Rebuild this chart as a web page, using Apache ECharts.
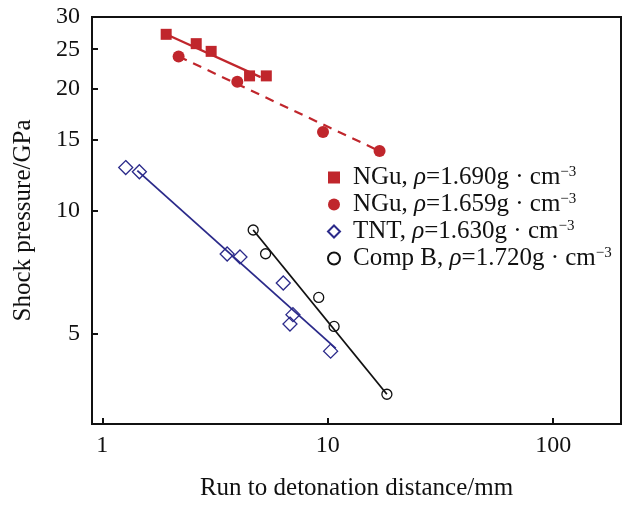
<!DOCTYPE html>
<html>
<head>
<meta charset="utf-8">
<script src="https://cdn.jsdelivr.net/npm/echarts@6/dist/echarts.min.js"></script>
<style>
  html, body { margin: 0; padding: 0; background: #fff; }
  #chart { width: 629px; height: 506px; }
</style>
</head>
<body>
<div id="chart"></div>
<script>
// Run-to-detonation (Pop plot) data, log-log
const ngu1690X = [1.92, 2.61, 3.04, 4.50, 5.34];
const ngu1690Y = [27.2, 25.8, 24.7, 21.5, 21.5];
const ngu1659X = [2.18, 3.97, 9.53, 16.98];
const ngu1659Y = [24.0, 20.8, 15.65, 14.05];
const tntX = [1.27, 1.46, 3.58, 4.08, 6.35, 7.01, 6.80, 10.3];
const tntY = [12.8, 12.5, 7.85, 7.72, 6.66, 5.57, 5.28, 4.53];
const compBX = [4.67, 5.30, 9.12, 10.67, 18.3];
const compBY = [8.99, 7.86, 6.14, 5.21, 3.55];

// Fitted power-law lines (end points)
const ngu1690FitX = [1.92, 5.04];
const ngu1690FitY = [27.2, 21.35];
const ngu1659FitX = [2.18, 16.98];
const ngu1659FitY = [24.0, 14.05];
const tntFitX = [1.43, 10.86];
const tntFitY = [12.58, 4.60];
const compBFitX = [4.67, 18.3];
const compBFitY = [8.99, 3.55];

// Axis ticks
const xTicks = [1, 10, 100];
const yTicks = [5, 10, 15, 20, 25, 30];

const seriesNames = ['NGu 1.690', 'NGu 1.659', 'TNT 1.630', 'Comp B 1.720'];
const legendLabels = {
  'NGu 1.690': 'NGu, {i|ρ}=1.690g · cm{s|−3}',
  'NGu 1.659': 'NGu, {i|ρ}=1.659g · cm{s|−3}',
  'TNT 1.630': 'TNT, {i|ρ}=1.630g · cm{s|−3}',
  'Comp B 1.720': 'Comp B, {i|ρ}=1.720g · cm{s|−3}'
};

const RED = '#c0262c';
const NAVY = '#2b2a8a';
const BLACK = '#111111';
const FONT = 'Liberation Serif';

const zip = (xs, ys) => xs.map((x, i) => [x, ys[i]]);

const chart = echarts.init(document.getElementById('chart'), null, { renderer: 'canvas' });

chart.setOption({
  backgroundColor: '#ffffff',
  animation: false,
  textStyle: { fontFamily: FONT, color: '#111' },
  grid: {
    left: 92, top: 17, right: 8, bottom: 76,
    show: true, borderColor: '#111', borderWidth: 2
  },
  xAxis: {
    type: 'log', logBase: 10, min: 0.9, max: 200,
    name: 'Run to detonation distance/mm',
    nameLocation: 'middle', nameGap: 52,
    nameTextStyle: { fontFamily: FONT, fontSize: 25, color: '#111' },
    axisLine: { lineStyle: { color: '#111', width: 2 } },
    axisTick: { inside: true, length: 6, lineStyle: { color: '#111', width: 2 }, customValues: xTicks },
    axisLabel: { fontFamily: FONT, fontSize: 24, color: '#111', margin: 10, customValues: xTicks },
    splitLine: { show: false },
    minorTick: { show: false }
  },
  yAxis: {
    type: 'log', logBase: 10, min: 3, max: 30,
    name: 'Shock pressure/GPa',
    nameLocation: 'middle', nameGap: 56,
    nameTextStyle: { fontFamily: FONT, fontSize: 25, color: '#111' },
    axisLine: { lineStyle: { color: '#111', width: 2 } },
    axisTick: { inside: true, length: 6, lineStyle: { color: '#111', width: 2 }, customValues: yTicks },
    axisLabel: { fontFamily: FONT, fontSize: 24, color: '#111', margin: 12, customValues: yTicks },
    splitLine: { show: false },
    minorTick: { show: false }
  },
  legend: {
    data: seriesNames,
    orient: 'vertical',
    left: 322, top: 160,
    itemWidth: 12, itemHeight: 12,
    itemGap: 2,
    formatter: (name) => legendLabels[name],
    textStyle: {
      fontFamily: FONT, fontSize: 25, color: '#111', lineHeight: 25,
      padding: [0, 0, 0, 8],
      rich: {
        i: { fontFamily: FONT, fontSize: 25, fontStyle: 'italic', color: '#111', lineHeight: 25 },
        s: { fontFamily: FONT, fontSize: 15, color: '#111', verticalAlign: 'top', lineHeight: 25, padding: [0, 0, 9, 0] }
      }
    }
  },
  series: [
    { name: 'fit1690', type: 'line', data: zip(ngu1690FitX, ngu1690FitY), symbol: 'none',
      lineStyle: { color: RED, width: 2.2 }, silent: true, z: 1 },
    { name: 'fit1659', type: 'line', data: zip(ngu1659FitX, ngu1659FitY), symbol: 'none',
      lineStyle: { color: RED, width: 2.2, type: [9, 7] }, silent: true, z: 1 },
    { name: 'fitTNT', type: 'line', data: zip(tntFitX, tntFitY), symbol: 'none',
      lineStyle: { color: NAVY, width: 1.8 }, silent: true, z: 1 },
    { name: 'fitCompB', type: 'line', data: zip(compBFitX, compBFitY), symbol: 'none',
      lineStyle: { color: BLACK, width: 1.8 }, silent: true, z: 1 },
    { name: seriesNames[0], type: 'scatter', data: zip(ngu1690X, ngu1690Y),
      symbol: 'rect', symbolSize: 11, itemStyle: { color: RED, opacity: 1 }, z: 3 },
    { name: seriesNames[1], type: 'scatter', data: zip(ngu1659X, ngu1659Y),
      symbol: 'circle', symbolSize: 12, itemStyle: { color: RED, opacity: 1 }, z: 3 },
    { name: seriesNames[2], type: 'scatter', data: zip(tntX, tntY),
      symbol: 'diamond', symbolSize: 14,
      itemStyle: { color: 'rgba(255,255,255,0)', borderColor: NAVY, borderWidth: 1.3, opacity: 1 }, z: 3 },
    { name: seriesNames[3], type: 'scatter', data: zip(compBX, compBY),
      symbol: 'circle', symbolSize: 10,
      itemStyle: { color: 'rgba(255,255,255,0)', borderColor: BLACK, borderWidth: 1.3, opacity: 1 }, z: 3 }
  ]
});
</script>
</body>
</html>
